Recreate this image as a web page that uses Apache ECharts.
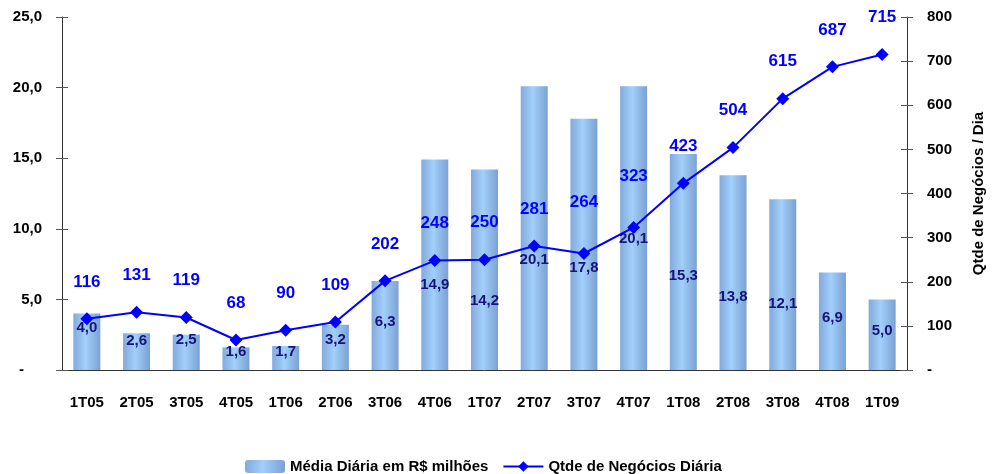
<!DOCTYPE html>
<html>
<head>
<meta charset="utf-8">
<script src="https://cdn.jsdelivr.net/npm/echarts@6/dist/echarts.min.js"></script>
<style>
  html, body { margin: 0; padding: 0; background: #fff; }
  #chart { width: 994px; height: 474px; }
</style>
</head>
<body>
<div id="chart"></div>
<script>
const chartDom = document.getElementById("chart");
let myChart = echarts.init(chartDom);

/** chart data */
const quarters = ["1T05", "2T05", "3T05", "4T05", "1T06", "2T06", "3T06", "4T06", "1T07",
  "2T07", "3T07", "4T07", "1T08", "2T08", "3T08", "4T08", "1T09"];
const mediaDiaria = [4.0, 2.6, 2.5, 1.6, 1.7, 3.2, 6.3, 14.9, 14.2, 20.1, 17.8, 20.1, 15.3, 13.8, 12.1, 6.9, 5.0];
const qtdeNegocios = [116, 131, 119, 68, 90, 109, 202, 248, 250, 281, 264, 323, 423, 504, 615, 687, 715];
const leftTicks = ["-", "5,0", "10,0", "15,0", "20,0", "25,0"];
const rightTicks = ["-", "100", "200", "300", "400", "500", "600", "700", "800"];

/** label placement (the original labels were moved by hand) */
const barLabelDrop = [7, 0, -2, -3, -2, 8, 33, 118, 124, 166, 142, 145, 114, 114, 97, 38, 24];
const lineLabelGap = [22, 22, 22, 22, 22, 22, 22, 22, 22, 22, 36, 36, 22, 22, 22, 22, 22];

const font = "'Liberation Sans', Arial, sans-serif";

const barColor = new echarts.graphic.LinearGradient(0, 0, 1, 0, [
  { offset: 0, color: "#82aadb" },
  { offset: 0.45, color: "#a2cffb" },
  { offset: 1, color: "#7aa1d2" }
]);

function fmtComma(v) {
  return v.toFixed(1).replace(".", ",");
}

const tickStyle = { color: "#555", width: 1 };

let option = {
  animation: false,
  textStyle: { fontFamily: font },
  grid: { left: 62, right: 85, top: 17, bottom: 104 },
  legend: {
    left: 240,
    top: 454,
    itemWidth: 40,
    itemHeight: 13,
    itemGap: 14,
    textStyle: { fontFamily: font, fontSize: 15, fontWeight: "bold", color: "#000" },
    data: ["Média Diária em R$ milhões", "Qtde de Negócios Diária"]
  },
  xAxis: [
    {
      type: "category",
      data: quarters,
      axisLine: { lineStyle: { color: "#333", width: 1 } },
      axisTick: { length: 6, lineStyle: tickStyle },
      axisLabel: { interval: 0, margin: 25, fontSize: 15, fontWeight: "bold", color: "#000", fontFamily: font }
    },
    {
      type: "category",
      data: quarters,
      position: "bottom",
      axisLine: { show: false },
      axisTick: { inside: true, length: 6, lineStyle: tickStyle },
      axisLabel: { show: false }
    }
  ],
  yAxis: [
    {
      type: "value",
      min: 0, max: 25, interval: 5,
      position: "left",
      splitLine: { show: false },
      axisLine: { show: true, lineStyle: { color: "#333", width: 1 } },
      axisTick: { show: true, length: 6, lineStyle: tickStyle },
      axisLabel: {
        margin: 20, fontSize: 15, fontWeight: "bold", color: "#000", fontFamily: font,
        formatter: (v) => v === 0 ? "{d|-}" : leftTicks[v / 5],
        rich: { d: { fontSize: 15, fontWeight: "bold", fontFamily: font, padding: [0, 18, 0, 0] } }
      }
    },
    {
      type: "value",
      min: 0, max: 800, interval: 100,
      position: "right",
      splitLine: { show: false },
      axisLine: { show: true, lineStyle: { color: "#333", width: 1 } },
      axisTick: { show: true, length: 6, lineStyle: tickStyle },
      axisLabel: {
        margin: 20, fontSize: 15, fontWeight: "bold", color: "#000", fontFamily: font,
        formatter: (v) => rightTicks[v / 100]
      },
      name: "Qtde de Negócios / Dia",
      nameLocation: "middle",
      nameRotate: 90,
      nameGap: 64,
      nameTextStyle: { fontSize: 15, fontWeight: "bold", color: "#000", fontFamily: font }
    },
    {
      type: "value",
      min: 0, max: 25, interval: 5,
      position: "left",
      splitLine: { show: false },
      axisLine: { show: false },
      axisTick: { show: true, inside: true, length: 6, lineStyle: tickStyle },
      axisLabel: { show: false }
    },
    {
      type: "value",
      min: 0, max: 800, interval: 100,
      position: "right",
      splitLine: { show: false },
      axisLine: { show: false },
      axisTick: { show: true, inside: true, length: 6, lineStyle: tickStyle },
      axisLabel: { show: false }
    }
  ],
  series: [
    {
      name: "Média Diária em R$ milhões",
      type: "bar",
      yAxisIndex: 0,
      barWidth: 27,
      itemStyle: { color: barColor },
      label: {
        show: true,
        position: "insideTop",
        distance: 0,
        fontSize: 15,
        fontWeight: "bold",
        color: "#14147a",
        fontFamily: font,
        formatter: (p) => fmtComma(p.value)
      },
      data: mediaDiaria.map((v, i) => ({ value: v, label: { offset: [0, barLabelDrop[i]] } }))
    },
    {
      name: "Qtde de Negócios Diária",
      type: "line",
      yAxisIndex: 1,
      symbol: "diamond",
      symbolSize: 13,
      lineStyle: { color: "#0000ff", width: 2 },
      itemStyle: { color: "#0000ff" },
      label: {
        show: true,
        position: "top",
        fontSize: 17,
        fontWeight: "bold",
        color: "#0000ff",
        fontFamily: font
      },
      data: qtdeNegocios.map((v, i) => ({ value: v, label: { distance: lineLabelGap[i] } }))
    }
  ]
};

option && myChart.setOption(option);
</script>
</body>
</html>
